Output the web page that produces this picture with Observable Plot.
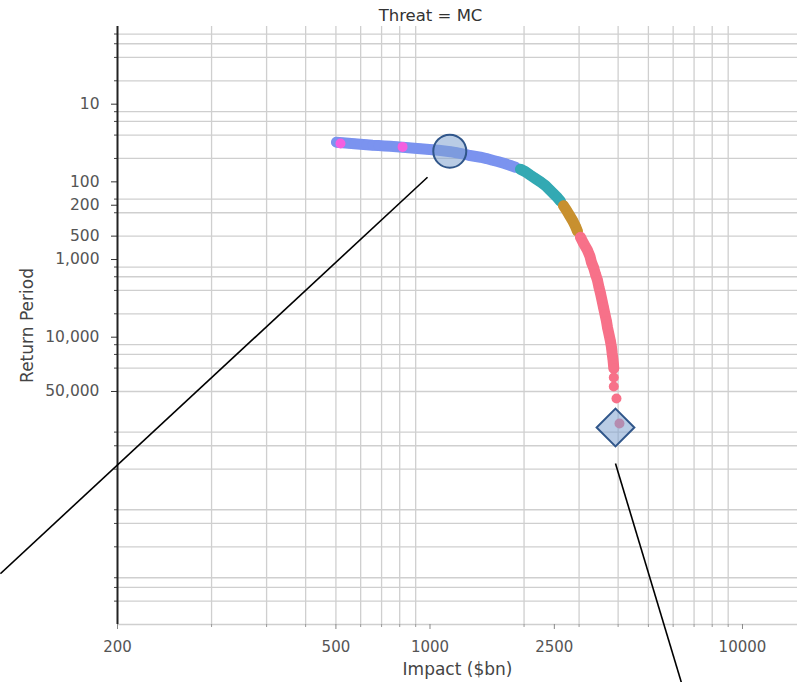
<!DOCTYPE html>
<html>
<head>
<meta charset="utf-8">
<script src="https://cdn.jsdelivr.net/npm/d3@7"></script>
<script src="https://cdn.jsdelivr.net/npm/@observablehq/plot@0.6"></script>
<style>
  html, body { margin: 0; padding: 0; background: #fff; }
</style>
</head>
<body>
<div id="chart"></div>
<script>
// ---- Data ----
const titleText = "Threat = MC";
const xLabel = "Impact ($bn)";
const yLabel = "Return Period";

// major ticks (x tick labels as printed in the reference)
const xTicks = [100, 500, 1000, 2500, 10000];
const xTickLabels = ["200", "500", "1000", "2500", "10000"];
const yTicks = [10, 100, 200, 500, 1000, 10000, 50000];
const yTickLabels = ["10", "100", "200", "500", "1,000", "10,000", "50,000"];

// minor grid positions
const xGrid = [200, 300, 400, 500, 600, 700, 800, 900, 2000, 3000, 4000, 5000, 6000, 7000, 8000, 9000];
const yGrid = [1.25, 1.667, 2.5, 5, 12.5, 16.67, 25, 50, 166.7, 250, 500, 1250, 1667, 2500, 5000,
               12500, 16667, 25000, 50000, 166667, 250000, 500000, 1666667, 2500000, 5000000,
               12500000, 16666667, 25000000];

// curve points [impact, return period], by colour group
const seriesBlue = [[502,30.9],[525,31.3],[549,31.8],[573,32.3],[599,32.8],[627,33.3],[655,33.8],[684,34.1],
  [715,34.5],[747,34.8],[781,35.3],[817,35.8],[853,36.4],[892,36.9],[932,37.5],[975,38.0],[1018,38.6],
  [1065,39.2],[1113,40.0],[1163,40.9],[1216,42.2],[1271,43.7],[1328,45.4],[1388,46.8],[1451,48.2],
  [1516,50.1],[1585,52.7],[1657,55.1],[1732,58.1],[1810,61.6],[1877,64.8]];
const seriesTeal = [[1948,68.8],[2021,74.1],[2097,82.2],[2176,90.7],[2257,100],[2342,112],[2412,126],
  [2484,142],[2559,160],[2616,178]];
const seriesOrange = [[2675,203],[2734,232],[2796,270],[2858,313],[2922,374],[2965,433]];
const seriesPink = [[3031,518],[3099,618],[3192,761],[3251,910],[3287,1087],[3336,1261],[3386,1551],
  [3436,1854],[3474,2281],[3513,2727],[3552,3356],[3591,4130],[3631,5084],[3672,6257],[3698,7476],
  [3740,9204],[3781,11330],[3809,13530],[3828,16170],[3851,19330],[3865,22410],[3874,25230],
  [3874,32960],[3874,43050],[3952,61490],[4040,129100]];
const seriesMagenta = [[517,32.1],[817,35.5]];
const densePinkCount = 22; // pink points that form the continuous band (rest are isolated)

// highlighted markers
const circleMarker = [[1157, 40.3]];
const diamondMarker = [[3923, 145400]];

// callout lines [from, to]
const callouts = [
  [[982, 87.3], [42.2, 1.106e7]],
  [[3923, 4.23e5], [6379, 2.81e8]]
];

// ---- Styles ----
const colors = {blue: "#7b93ef", teal: "#33a9b3", orange: "#c8902f", pink: "#f77189", magenta: "#f45fe0"};
const gridColor = "#cfcfcf";
const markerFill = "#7fa3d0";
const markerStroke = "#30568a";

const xFmt = new Map(xTicks.map((t, i) => [t, xTickLabels[i]]));
const yFmt = new Map(yTicks.map((t, i) => [t, yTickLabels[i]]));
const xMinor = xGrid.filter(v => !xTicks.includes(v));
const yMinor = yGrid.filter(v => !yTicks.includes(v));
const noLabel = () => "";

const X = d => d[0], Y = d => d[1];
const band = (arr, color) => Plot.line(arr, {x: X, y: Y, stroke: color, strokeWidth: 11, strokeLinecap: "round", strokeLinejoin: "round"});
const dots = (arr, color) => Plot.dot(arr, {x: X, y: Y, r: 5, fill: color, stroke: "none"});

const chart = Plot.plot({
  width: 800,
  height: 682,
  marginLeft: 117,
  marginRight: 3,
  marginTop: 26,
  marginBottom: 58,
  style: {fontFamily: "DejaVu Sans", fontSize: "15.5px", background: "#fff", color: "#444"},
  x: {type: "log", domain: [100, 15000], label: null},
  y: {type: "log", domain: [1, 5e7], reverse: true, label: null},
  marks: [
    Plot.gridX(xGrid, {stroke: gridColor, strokeOpacity: 1, strokeWidth: 1.3}),
    Plot.gridY(yGrid, {stroke: gridColor, strokeOpacity: 1, strokeWidth: 1.3}),
    Plot.ruleY([5e7], {stroke: gridColor, strokeWidth: 1.5}),
    Plot.axisX(xMinor, {tickSize: 3, tickFormat: noLabel, stroke: "#999", label: null}),
    Plot.axisX(xTicks, {tickSize: 5, tickFormat: noLabel, stroke: "#888", label: null}),
    Plot.axisY(yMinor, {tickSize: 3, tickFormat: noLabel, stroke: "#444", label: null}),
    Plot.axisY(yTicks, {tickSize: 6, tickFormat: noLabel, stroke: "#333", label: null}),
    Plot.text(xTicks, {x: d => d, text: d => xFmt.get(d), frameAnchor: "bottom", dy: 23, lineAnchor: "middle", textAnchor: "middle", fill: "#555", fontSize: 15}),
    Plot.text(yTicks, {y: d => d, text: d => yFmt.get(d), frameAnchor: "left", dx: -18, lineAnchor: "middle", textAnchor: "end", fill: "#555", fontSize: 15.5}),
    Plot.ruleX([100], {stroke: "#222", strokeWidth: 2}),
    band(seriesBlue, colors.blue),
    dots(seriesBlue, colors.blue),
    band(seriesTeal, colors.teal),
    dots(seriesTeal, colors.teal),
    band(seriesOrange, colors.orange),
    dots(seriesOrange, colors.orange),
    band(seriesPink.slice(0, densePinkCount), colors.pink),
    dots(seriesPink, colors.pink),
    dots(seriesMagenta, colors.magenta),
    Plot.dot(circleMarker, {x: X, y: Y, r: 16.5, fill: markerFill, fillOpacity: 0.55, stroke: markerStroke, strokeWidth: 2}),
    Plot.dot(diamondMarker, {x: X, y: Y, symbol: "diamond2", r: 17, fill: markerFill, fillOpacity: 0.55, stroke: markerStroke, strokeWidth: 2}),
    Plot.link(callouts, {x1: d => d[0][0], y1: d => d[0][1], x2: d => d[1][0], y2: d => d[1][1], stroke: "#000", strokeWidth: 1.6}),
    Plot.text([titleText], {frameAnchor: "top-left", dx: 313, dy: -11, textAnchor: "middle", lineAnchor: "middle", fontSize: 16.5, fill: "#333"}),
    Plot.text([xLabel], {frameAnchor: "bottom", dy: 45, textAnchor: "middle", lineAnchor: "middle", fontSize: 17, fill: "#444"}),
    Plot.text([yLabel], {frameAnchor: "left", dx: -90, rotate: -90, textAnchor: "middle", lineAnchor: "middle", fontSize: 17, fill: "#444"})
  ]
});
document.getElementById("chart").appendChild(chart);
</script>
</body>
</html>
